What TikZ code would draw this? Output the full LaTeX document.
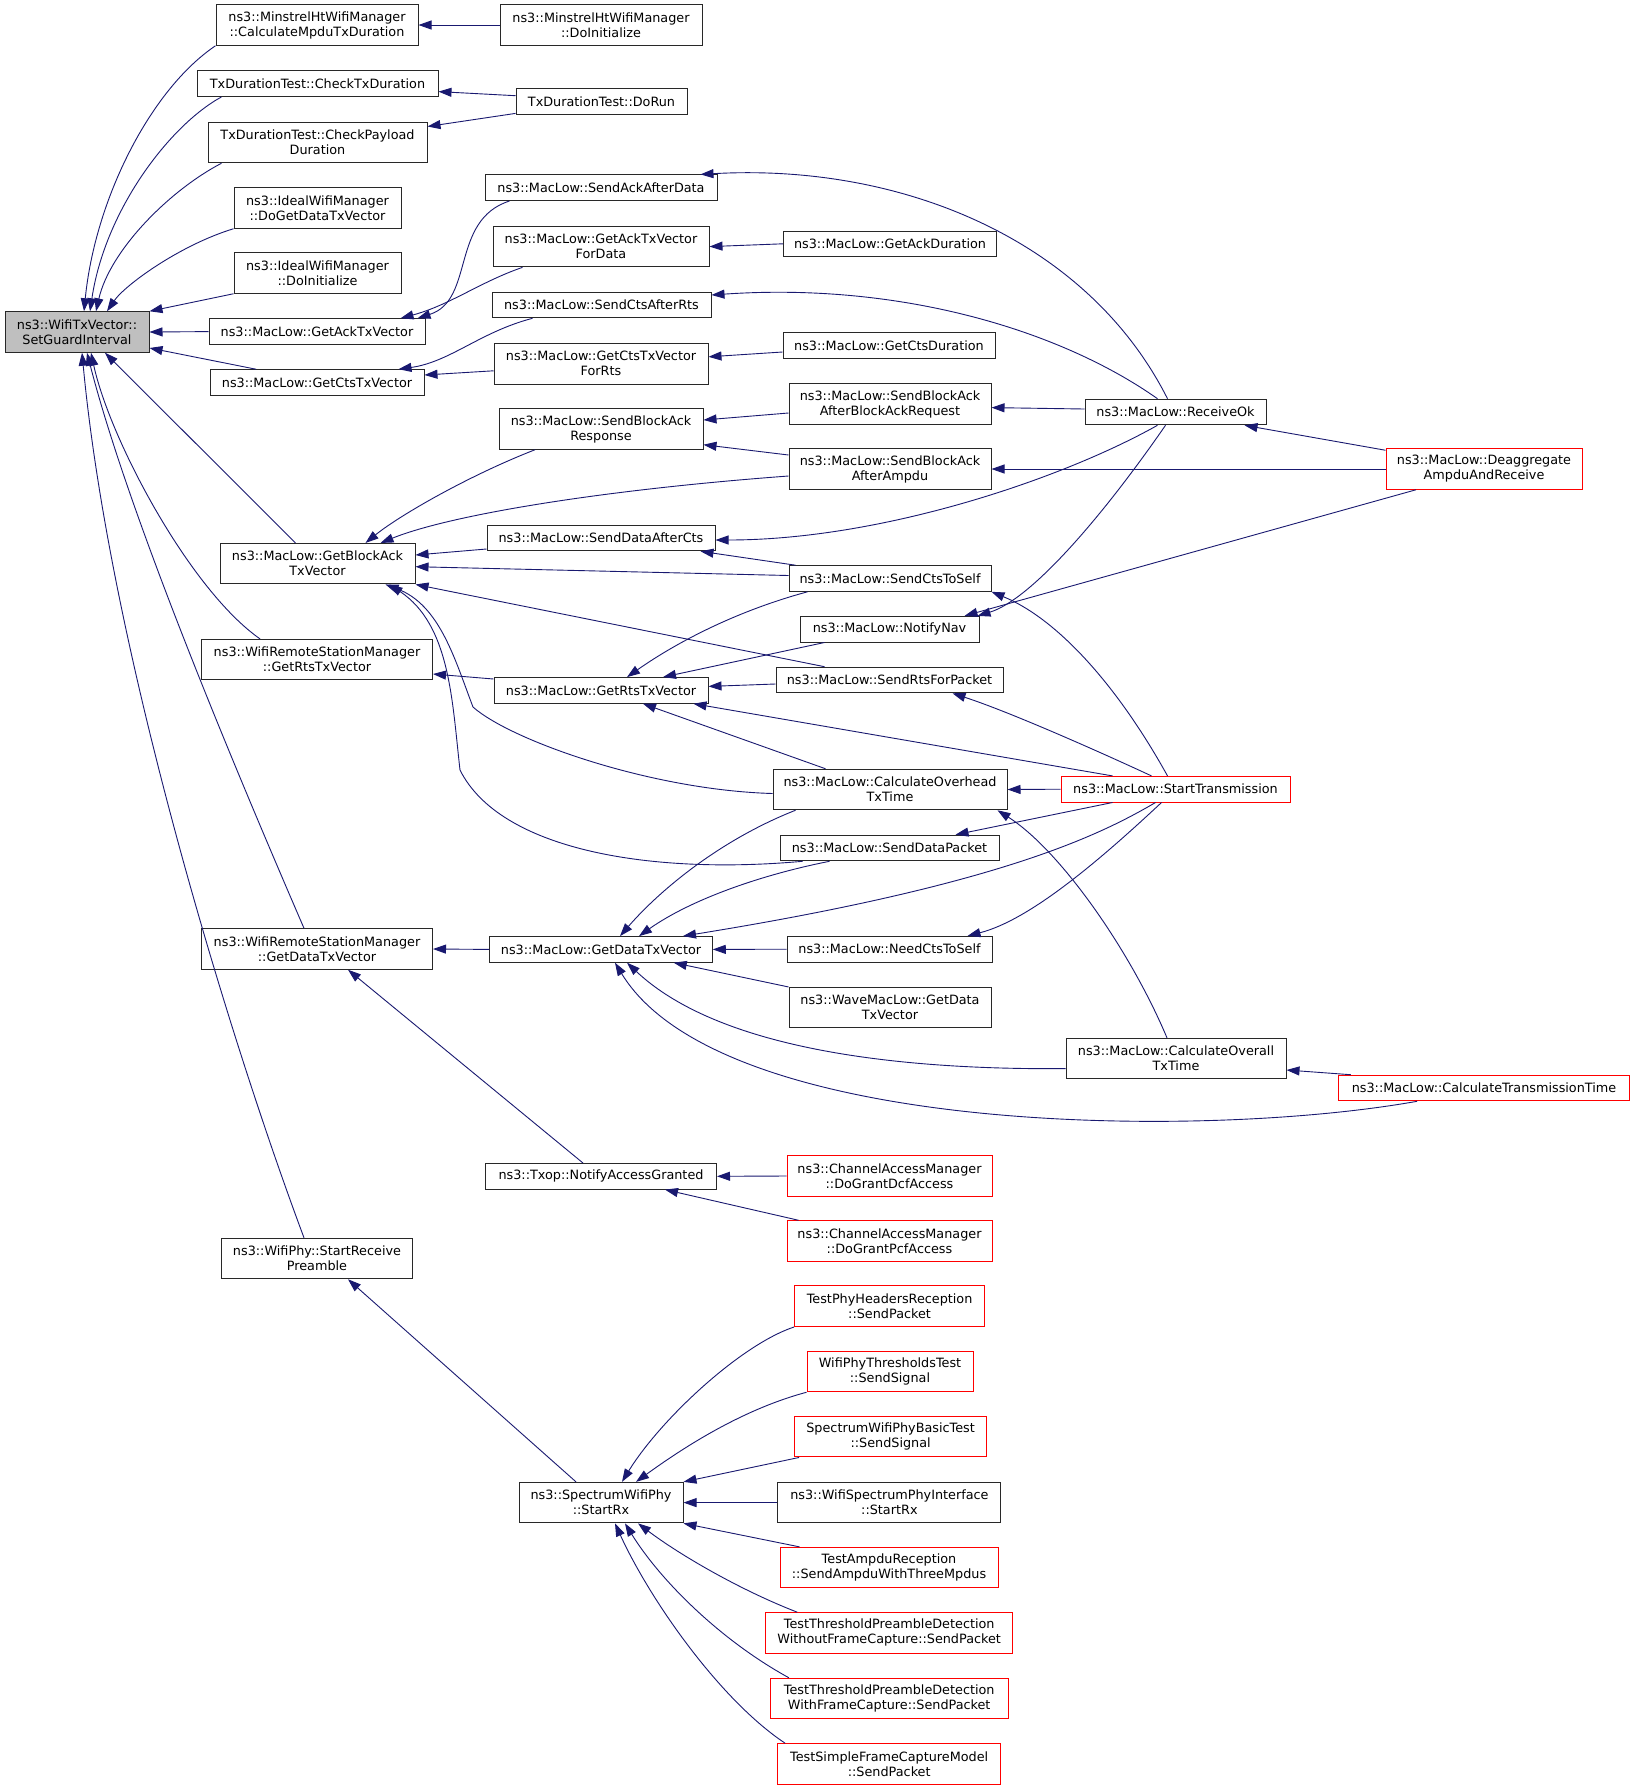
\documentclass[tikz,border=0pt]{standalone}
\usepackage{fontspec}
\setmainfont{DejaVu Sans}
\usetikzlibrary{arrows.meta}
\definecolor{edgeblue}{RGB}{25,25,112}
\definecolor{sgifill}{RGB}{191,191,191}
\definecolor{boxline}{RGB}{40,40,40}
\definecolor{boxred}{RGB}{255,0,0}
\begin{document}
\begin{tikzpicture}[x=1pt,y=-1pt,
  box/.style={draw=boxline, line width=1pt, fill=white, inner sep=0pt, align=center,
    font=\fontsize{12.8}{15}\selectfont, minimum height=25.6},
  two/.style={minimum height=40.5},
  redbox/.style={draw=boxred},
  edge/.style={draw=edgeblue, line width=0.9pt, -{Triangle[length=13pt,width=9pt]}}
]
\useasboundingbox (0,0) rectangle (1635,1789);
\fill[white] (0,0) rectangle (1635,1789);

% column 1
\node[box,two,fill=sgifill,minimum width=144] (sgi) at (77,332) {ns3::WifiTxVector::\\SetGuardInterval};
% column 2
\node[box,two,minimum width=202] (cmtd) at (317,25) {ns3::MinstrelHtWifiManager\\::CalculateMpduTxDuration};
\node[box,minimum width=241] (ctxd) at (317.5,83.6) {TxDurationTest::CheckTxDuration};
\node[box,two,minimum width=219] (cpd) at (317.5,142.5) {TxDurationTest::CheckPayload\\Duration};
\node[box,two,minimum width=167] (idgd) at (317.5,208) {ns3::IdealWifiManager\\::DoGetDataTxVector};
\node[box,two,minimum width=167] (idinit) at (317.5,273) {ns3::IdealWifiManager\\::DoInitialize};
\node[box,minimum width=216] (gatv) at (317,331.6) {ns3::MacLow::GetAckTxVector};
\node[box,minimum width=214] (gctv) at (317,382.5) {ns3::MacLow::GetCtsTxVector};
\node[box,two,minimum width=195] (gbatv) at (317.5,563.7) {ns3::MacLow::GetBlockAck\\TxVector};
\node[box,two,minimum width=231] (wrsmrts) at (317,659.6) {ns3::WifiRemoteStationManager\\::GetRtsTxVector};
\node[box,two,minimum width=231] (wrsmdata) at (317,949) {ns3::WifiRemoteStationManager\\::GetDataTxVector};
\node[box,two,minimum width=191] (srp) at (317,1258.5) {ns3::WifiPhy::StartReceive\\Preamble};
% column 3
\node[box,two,minimum width=202] (mdoinit) at (601,25) {ns3::MinstrelHtWifiManager\\::DoInitialize};
\node[box,minimum width=171] (dorun) at (601.5,101.4) {TxDurationTest::DoRun};
\node[box,minimum width=232] (saad) at (601,187.7) {ns3::MacLow::SendAckAfterData};
\node[box,two,minimum width=216] (gafd) at (601,246.6) {ns3::MacLow::GetAckTxVector\\ForData};
\node[box,minimum width=219] (scar) at (601.5,305) {ns3::MacLow::SendCtsAfterRts};
\node[box,two,minimum width=214] (gcfr) at (601,363.8) {ns3::MacLow::GetCtsTxVector\\ForRts};
\node[box,two,minimum width=204] (sbar) at (601,429) {ns3::MacLow::SendBlockAck\\Response};
\node[box,minimum width=228] (sdac) at (601,538) {ns3::MacLow::SendDataAfterCts};
\node[box,minimum width=214] (grts) at (601,690.4) {ns3::MacLow::GetRtsTxVector};
\node[box,minimum width=222.5] (gdtv) at (601,949.4) {ns3::MacLow::GetDataTxVector};
\node[box,minimum width=231] (nag) at (601,1176.3) {ns3::Txop::NotifyAccessGranted};
\node[box,two,minimum width=164] (srx) at (601,1502.6) {ns3::SpectrumWifiPhy\\::StartRx};
% column 4
\node[box,minimum width=213] (gad) at (890,243.8) {ns3::MacLow::GetAckDuration};
\node[box,minimum width=212] (gcd) at (889,345.4) {ns3::MacLow::GetCtsDuration};
\node[box,two,minimum width=202] (sbabar) at (890,404) {ns3::MacLow::SendBlockAck\\AfterBlockAckRequest};
\node[box,two,minimum width=202] (sbaamp) at (890,469) {ns3::MacLow::SendBlockAck\\AfterAmpdu};
\node[box,minimum width=202] (scts) at (890,578.5) {ns3::MacLow::SendCtsToSelf};
\node[box,minimum width=179] (nnav) at (889.5,629.2) {ns3::MacLow::NotifyNav};
\node[box,minimum width=227] (srfp) at (889.5,680) {ns3::MacLow::SendRtsForPacket};
\node[box,two,minimum width=234] (cohd) at (890,789.5) {ns3::MacLow::CalculateOverhead\\TxTime};
\node[box,minimum width=219] (sdp) at (889.5,848) {ns3::MacLow::SendDataPacket};
\node[box,minimum width=205] (ncts) at (889.5,949.2) {ns3::MacLow::NeedCtsToSelf};
\node[box,two,minimum width=202] (wave) at (890,1007.7) {ns3::WaveMacLow::GetData\\TxVector};
\node[box,two,redbox,minimum width=205] (dcf) at (889.5,1176) {ns3::ChannelAccessManager\\::DoGrantDcfAccess};
\node[box,two,redbox,minimum width=205] (pcf) at (889.5,1241) {ns3::ChannelAccessManager\\::DoGrantPcfAccess};
\node[box,two,redbox,minimum width=190] (tphr) at (889.6,1306.2) {TestPhyHeadersReception\\::SendPacket};
\node[box,two,redbox,minimum width=166] (wpth) at (890,1371.5) {WifiPhyThresholdsTest\\::SendSignal};
\node[box,two,redbox,minimum width=192] (swbt) at (890.6,1436.7) {SpectrumWifiPhyBasicTest\\::SendSignal};
\node[box,two,minimum width=223] (wspi) at (889.4,1502.6) {ns3::WifiSpectrumPhyInterface\\::StartRx};
\node[box,two,redbox,minimum width=218] (tar) at (889,1567.6) {TestAmpduReception\\::SendAmpduWithThreeMpdus};
\node[box,two,redbox,minimum width=247] (ttpwo) at (889.2,1632.9) {TestThresholdPreambleDetection\\WithoutFrameCapture::SendPacket};
\node[box,two,redbox,minimum width=237.6] (ttpw) at (889.2,1698.5) {TestThresholdPreambleDetection\\WithFrameCapture::SendPacket};
\node[box,two,redbox,minimum width=223] (tsfc) at (889.2,1764) {TestSimpleFrameCaptureModel\\::SendPacket};
% column 5
\node[box,minimum width=181] (rok) at (1175.5,412) {ns3::MacLow::ReceiveOk};
\node[box,redbox,minimum width=229] (stx) at (1175.5,789.2) {ns3::MacLow::StartTransmission};
\node[box,two,minimum width=220] (cotx) at (1176,1058.6) {ns3::MacLow::CalculateOverall\\TxTime};
% column 6
\node[box,two,redbox,minimum width=196] (deagg) at (1484,469) {ns3::MacLow::Deaggregate\\AmpduAndReceive};
\node[box,redbox,minimum width=290.5] (ctt) at (1484,1088) {ns3::MacLow::CalculateTransmissionTime};

% ---- edges into SetGuardInterval
\draw[edge] (cmtd.south west) .. controls (150,90) and (95,200) .. ([xshift=7]sgi.north);
\draw[edge] ([xshift=25]ctxd.south west) .. controls (170,125) and (105,210) .. ([xshift=13]sgi.north);
\draw[edge] ([xshift=14]cpd.south west) .. controls (170,190) and (110,250) .. ([xshift=19]sgi.north);
\draw[edge] (idgd.south west) .. controls (180,245) and (125,285) .. ([xshift=30]sgi.north);
\draw[edge] (idinit.south west) -- (sgi.north east);
\draw[edge] (gatv.west) -- (sgi.east);
\draw[edge] ([xshift=-61]gctv.north) -- ([yshift=-16]sgi.east);
\draw[edge] ([xshift=-22]gbatv.north) -- ([xshift=28]sgi.south);
\draw[edge] ([xshift=-57]wrsmrts.north) .. controls (190,590) and (110,440) .. ([xshift=14]sgi.south);
\draw[edge] ([xshift=-13]wrsmdata.north) .. controls (240,780) and (130,520) .. ([xshift=10]sgi.south);
\draw[edge] ([xshift=-13]srp.north) .. controls (230,1040) and (110,650) .. ([xshift=5]sgi.south);

% ---- upper part
\draw[edge] (mdoinit.west) -- (cmtd.east);
\draw[edge] ([yshift=5.7]dorun.west) -- ([yshift=-8]ctxd.east);
\draw[edge] ([yshift=-12]dorun.west) -- ([yshift=16]cpd.east);
\draw[edge] ([xshift=25]saad.south west) .. controls (450,220) and (475,300) .. ([xshift=-8]gatv.north east);
\draw[edge] ([xshift=30]gafd.south west) .. controls (480,282) and (450,305) .. ([xshift=-25]gatv.north east);
\draw[edge] ([xshift=41]scar.south west) .. controls (480,332) and (450,362) .. ([xshift=-26]gctv.north east);
\draw[edge] ([yshift=-7]gcfr.west) -- ([yshift=7.5]gctv.east);
\draw[edge] (gad.west) -- (gafd.east);
\draw[edge] ([yshift=-6.6]gcd.west) -- ([yshift=7]gcfr.east);
\draw[edge] ([yshift=-9]sbabar.west) -- ([yshift=9]sbar.east);
\draw[edge] ([yshift=14]sbaamp.west) -- ([yshift=-15.7]sbar.east);
\draw[edge] ([yshift=3]rok.west) -- ([yshift=-3.6]sbabar.east);
\draw[edge] (deagg.west) -- (sbaamp.east);
\draw[edge] ([yshift=-2]deagg.north west) -- ([xshift=-22]rok.south east);
\draw[edge] ([xshift=-68]deagg.south) -- ([xshift=-15]nnav.north east);
\draw[edge] ([xshift=-8]rok.north) .. controls (1087,239) and (900,163) .. ([xshift=-17]saad.north east);
\draw[edge] ([xshift=-18]rok.north) .. controls (1060,330) and (900,282) .. ([yshift=10]scar.east);
\draw[edge] ([xshift=-18]rok.south) .. controls (1060,480) and (880,540) .. ([yshift=-2]sdac.east);
\draw[edge] ([xshift=-10]rok.south) .. controls (1100,520) and (1030,600) .. ([xshift=-2]nnav.north east);

% ---- GetBlockAckTxVector
\draw[edge] ([xshift=-66]sbar.south) .. controls (470,475) and (400,515) .. ([xshift=48]gbatv.north);
\draw[edge] ([yshift=-7]sbaamp.west) .. controls (600,490) and (450,515) .. ([xshift=63]gbatv.north);
\draw[edge] ([yshift=-11]sdac.west) -- ([yshift=8.7]gbatv.east);
\draw[edge] ([yshift=3]scts.west) -- ([yshift=-3]gbatv.east);
\draw[edge] ([xshift=7]scts.north west) -- ([xshift=-15]sdac.south east);
\draw[edge] ([xshift=49]srfp.north west) -- (gbatv.south east);
\draw[edge] ([yshift=-4]cohd.west) .. controls (650,790) and (510,740) .. (473,707)
  .. controls (455,660) and (440,605) .. ([xshift=68]gbatv.south);
\draw[edge] ([xshift=23]sdp.south west) .. controls (650,875) and (500,850) .. (460,770)
  .. controls (452,700) and (450,625) .. ([xshift=72]gbatv.south);

% ---- GetRtsTxVector
\draw[edge] ([yshift=11.4]grts.west) -- ([yshift=-14.4]wrsmrts.east);
\draw[edge] ([xshift=19]scts.south west) .. controls (740,610) and (680,640) .. ([xshift=26]grts.north);
\draw[edge] ([xshift=25]nnav.south west) -- ([xshift=62]grts.north);
\draw[edge] ([yshift=-4]srfp.west) -- ([yshift=4]grts.east);
\draw[edge] ([xshift=52]stx.north west) -- ([xshift=-15]grts.south east);
\draw[edge] ([xshift=53]cohd.north west) -- ([xshift=42]grts.south);

% ---- StartTransmission and friends
\draw[edge] ([xshift=-24]stx.north) .. controls (1100,752) and (1010,712) .. ([xshift=63]srfp.south);
\draw[edge] ([xshift=-8]stx.north) .. controls (1120,690) and (1060,620) .. (scts.south east);
\draw[edge] (stx.west) -- (cohd.east);
\draw[edge] ([xshift=52]stx.south west) -- ([xshift=-44]sdp.north east);
\draw[edge] ([xshift=-9]cotx.north) .. controls (1130,950) and (1060,850) .. ([xshift=-10]cohd.south east);
\draw[edge] ([xshift=-20]stx.south) .. controls (1100,835) and (1000,885) .. ([xshift=82]gdtv.north);
\draw[edge] ([xshift=-14]stx.south) .. controls (1100,860) and (1030,920) .. ([xshift=78]ncts.north);

% ---- GetDataTxVector
\draw[edge] ([xshift=23]cohd.south west) .. controls (720,840) and (660,890) .. ([xshift=19]gdtv.north);
\draw[edge] ([xshift=50]sdp.south west) .. controls (760,875) and (690,900) .. ([xshift=38]gdtv.north);
\draw[edge] (ncts.west) -- (gdtv.east);
\draw[edge] (wave.north west) -- ([xshift=-39]gdtv.south east);
\draw[edge] ([yshift=-10]cotx.west) .. controls (900,1070) and (720,1050) .. ([xshift=26]gdtv.south);
\draw[edge] ([xshift=-67]ctt.south) .. controls (1200,1140) and (720,1135) .. ([xshift=14]gdtv.south);
\draw[edge] ([xshift=12.5]ctt.north west) -- ([yshift=-11.4]cotx.east);
\draw[edge] (gdtv.west) -- (wrsmdata.east);

% ---- NotifyAccessGranted
\draw[edge] ([xshift=98]nag.north west) -- ([xshift=31]wrsmdata.south);
\draw[edge] (dcf.west) -- (nag.east);
\draw[edge] ([xshift=12]pcf.north west) -- ([xshift=64]nag.south);

% ---- StartRx
\draw[edge] ([xshift=-25]srx.north) -- ([xshift=31]srp.south);
\draw[edge] (tphr.south west) .. controls (740,1345) and (660,1420) .. ([xshift=21]srx.north);
\draw[edge] (wpth.south west) .. controls (740,1410) and (680,1450) .. ([xshift=35]srx.north);
\draw[edge] ([xshift=5]swbt.south west) -- (srx.north east);
\draw[edge] (wspi.west) -- (srx.east);
\draw[edge] ([xshift=20]tar.north west) -- (srx.south east);
\draw[edge] ([xshift=32]ttpwo.north west) .. controls (740,1590) and (680,1555) .. ([xshift=37]srx.south);
\draw[edge] ([xshift=19]ttpw.north west) .. controls (720,1640) and (660,1580) .. ([xshift=24]srx.south);
\draw[edge] ([xshift=8]tsfc.north west) .. controls (720,1700) and (650,1600) .. ([xshift=14]srx.south);
\end{tikzpicture}
\end{document}
